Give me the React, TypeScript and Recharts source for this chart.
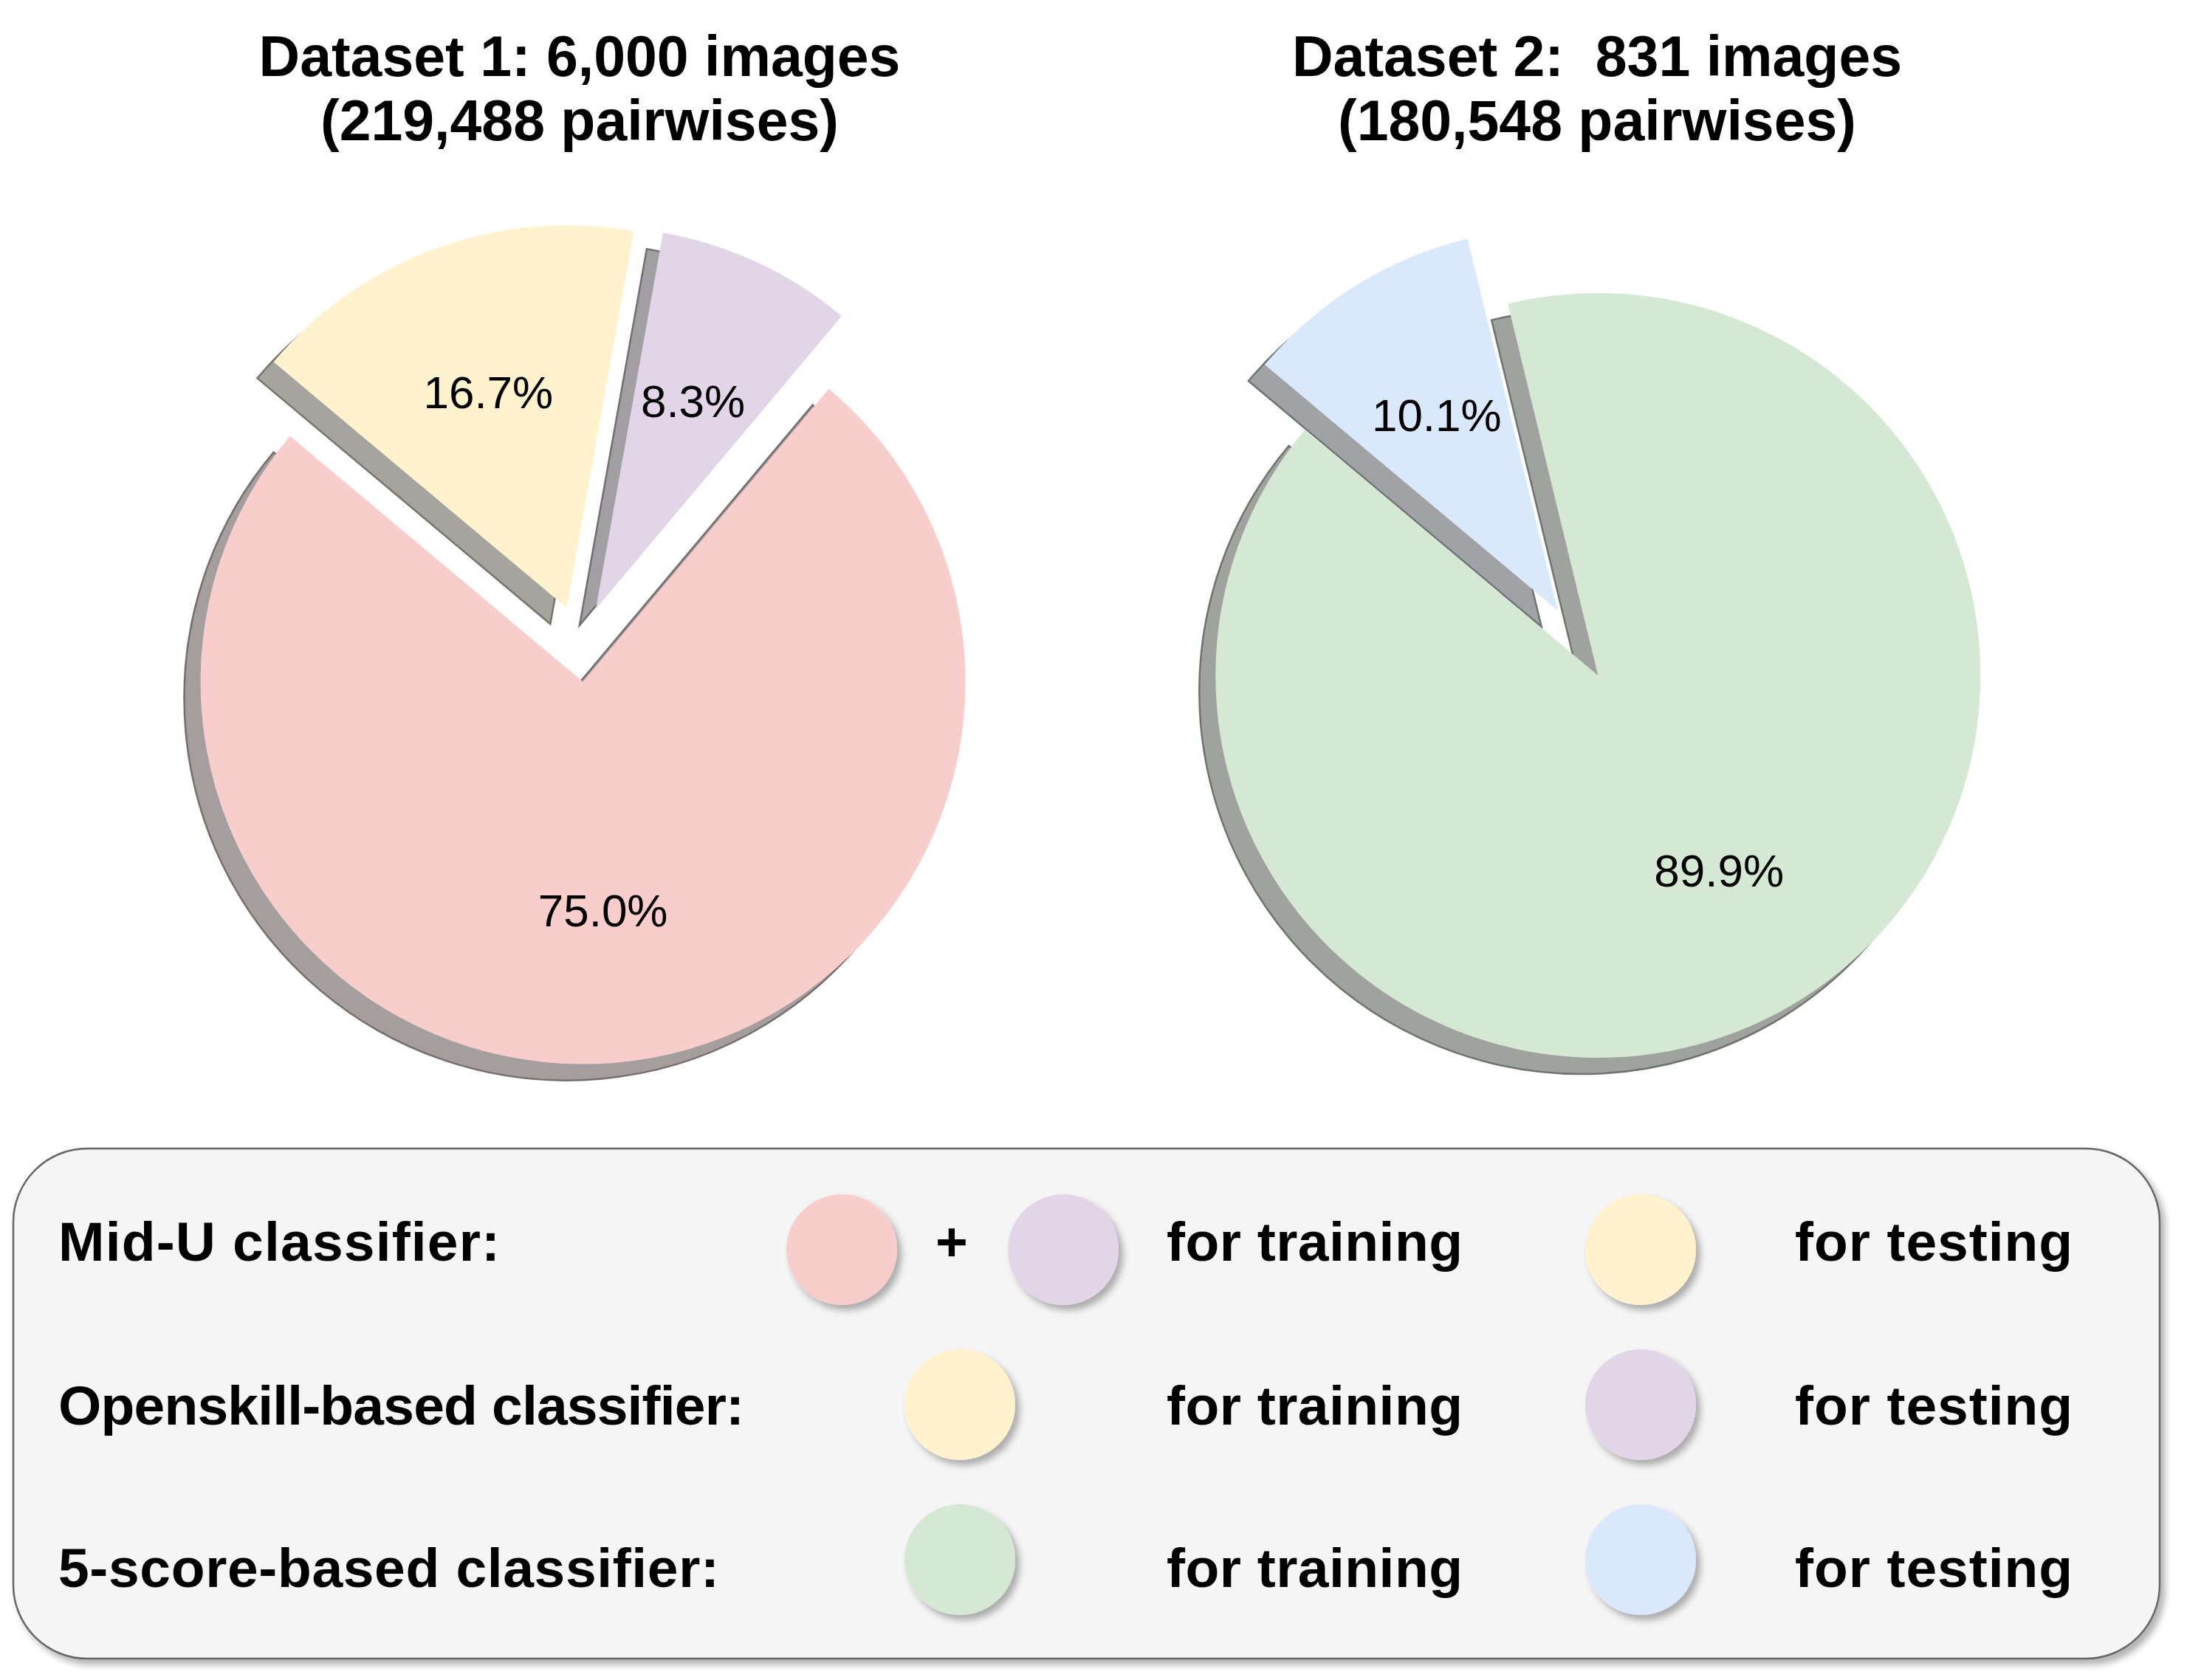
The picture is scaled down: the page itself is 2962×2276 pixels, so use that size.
import React from 'react';
import { PieChart, Pie, Cell, Sector } from 'recharts';

// ---------- data ----------
const dataset1Splits = ['Mid-U train only', 'Mid-U train / Openskill test', 'Mid-U test / Openskill train'];
const dataset1Values = [75.0, 8.3, 16.7];
const dataset1Colors = ['#f8cecc', '#e1d5e7', '#fff2cc'];

const dataset2Splits = ['5-score train', '5-score test'];
const dataset2Values = [89.9, 10.1];
const dataset2Colors = ['#d5e8d4', '#dae8fc'];

const title1Lines = ['Dataset 1: 6,000 images', '(219,488 pairwises)'];
const title2Lines = ['Dataset 2:  831 images', '(180,548 pairwises)'];

const legendClassifiers = ['Mid-U classifier:', 'Openskill-based classifier:', '5-score-based classifier:'];
const legendTrainColors = [['#f8cecc', '#e1d5e7'], ['#fff2cc'], ['#d5e8d4']];
const legendTestColors = ['#fff2cc', '#e1d5e7', '#dae8fc'];
const trainText = 'for training';
const testText = 'for testing';

// ---------- layout / style ----------
const W = 2962;
const H = 2276;
const R = 518;
const EXPLODE = 0.1;
const SHADOW = 22;
const START = 140;
const PIE1 = { cx: 785, cy: 872 };
const PIE2 = { cx: 2137, cy: 871 };
const FONT = "'Liberation Sans', Arial, sans-serif";
const RAD = Math.PI / 180;
const LABEL_WIDTHS = [598, 929, 895];

const shadowOf = (hex: string) => {
  const n = parseInt(hex.slice(1), 16);
  const c = [(n >> 16) & 255, (n >> 8) & 255, n & 255].map((v) => Math.round(0.15 * v + 127.5));
  return `rgb(${c[0]},${c[1]},${c[2]})`;
};
const edgeOf = (hex: string) => {
  const n = parseInt(hex.slice(1), 16);
  const c = [(n >> 16) & 255, (n >> 8) & 255, n & 255].map((v) => Math.round(0.22 * v + 64));
  return `rgb(${c[0]},${c[1]},${c[2]})`;
};

const data1 = dataset1Splits.map((name, i) => ({ name, value: dataset1Values[i] }));
const data2 = dataset2Splits.map((name, i) => ({ name, value: dataset2Values[i] }));

const ExplodedSector = (props: any) => {
  const { cx, cy, outerRadius, startAngle, endAngle } = props;
  const mid = props.midAngle ?? (startAngle + endAngle) / 2;
  const d = EXPLODE * outerRadius;
  const dx = d * Math.cos(-mid * RAD);
  const dy = d * Math.sin(-mid * RAD);
  return <Sector {...props} cx={cx + dx} cy={cy + dy} />;
};

const renderPct = (p: any) => {
  const r = (EXPLODE + 0.6) * p.outerRadius;
  const x = p.cx + r * Math.cos(-p.midAngle * RAD);
  const y = p.cy + r * Math.sin(-p.midAngle * RAD);
  return (
    <text
      x={x}
      y={y}
      textAnchor="middle"
      dominantBaseline="central"
      fontFamily={FONT}
      fontSize={62}
      fill="#000"
    >
      {`${(p.percent * 100).toFixed(1)}%`}
    </text>
  );
};

export default function App() {
  const pies = [
    { data: data1, colors: dataset1Colors, pos: PIE1 },
    { data: data2, colors: dataset2Colors, pos: PIE2 },
  ];
  const rowCircleY = [1693, 1903, 2113];
  const rowBaseY = [1708, 1930, 2150];
  const trainX = [[1140, 1440], [1300], [1300]];
  const testX = 2222;

  return (
    <div style={{ position: 'absolute', left: 0, top: 0, width: W, height: H, background: '#fff' }}>
      <div style={{ position: 'absolute', left: 0, top: 0 }}>
        <PieChart width={W} height={H} margin={{ top: 0, right: 0, bottom: 0, left: 0 }}>
          {pies.map((p, k) => (
            <Pie
              key={`shadow-${k}`}
              data={p.data}
              dataKey="value"
              nameKey="name"
              cx={p.pos.cx - SHADOW}
              cy={p.pos.cy + SHADOW}
              outerRadius={R}
              startAngle={START}
              endAngle={START + 360}
              isAnimationActive={false}
              shape={ExplodedSector}
              activeShape={ExplodedSector}
              inactiveShape={ExplodedSector}
              strokeWidth={2.5}
            >
              {p.data.map((_: any, i: number) => (
                <Cell key={i} fill={shadowOf(p.colors[i])} stroke={edgeOf(p.colors[i])} />
              ))}
            </Pie>
          ))}
          {pies.map((p, k) => (
            <Pie
              key={`pie-${k}`}
              data={p.data}
              dataKey="value"
              nameKey="name"
              cx={p.pos.cx}
              cy={p.pos.cy}
              outerRadius={R}
              startAngle={START}
              endAngle={START + 360}
              isAnimationActive={false}
              shape={ExplodedSector}
              activeShape={ExplodedSector}
              inactiveShape={ExplodedSector}
              stroke="none"
              label={renderPct}
              labelLine={false}
            >
              {p.data.map((_: any, i: number) => (
                <Cell key={i} fill={p.colors[i]} stroke="none" />
              ))}
            </Pie>
          ))}
        </PieChart>
      </div>
      <svg
        width={W}
        height={H}
        style={{ position: 'absolute', left: 0, top: 0, pointerEvents: 'none' }}
      >
        <defs>
          <filter id="dshadow" x="-20%" y="-20%" width="150%" height="150%">
            <feDropShadow dx="6" dy="7" stdDeviation="5" floodColor="#000" floodOpacity="0.3" />
          </filter>
        </defs>
        {[{ lines: title1Lines, x: 785 }, { lines: title2Lines, x: 2163 }].map((t, k) =>
          t.lines.map((line, j) => (
            <text
              key={`t-${k}-${j}`}
              x={t.x}
              y={103 + j * 87}
              textAnchor="middle"
              fontFamily={FONT}
              fontWeight="bold"
              fontSize={77}
              fill="#000"
              style={{ whiteSpace: 'pre' }}
            >
              {line}
            </text>
          ))
        )}
        <rect
          x={18}
          y={1556}
          width={2907}
          height={691}
          rx={100}
          ry={100}
          fill="#f5f5f5"
          stroke="#666666"
          strokeWidth={2.5}
          filter="url(#dshadow)"
        />
        {legendClassifiers.map((label, r) => (
          <g key={`row-${r}`}>
            <text
              x={79}
              y={rowBaseY[r]}
              fontFamily={FONT}
              fontWeight="bold"
              fontSize={75}
              fill="#000"
              textLength={LABEL_WIDTHS[r]}
              lengthAdjust="spacing"
            >
              {label}
            </text>
            {legendTrainColors[r].map((c, i) => (
              <circle key={i} cx={trainX[r][i]} cy={rowCircleY[r]} r={75} fill={c} filter="url(#dshadow)" />
            ))}
            {legendTrainColors[r].length > 1 && (
              <text x={1289} y={rowBaseY[r]} textAnchor="middle" fontFamily={FONT} fontWeight="bold" fontSize={75} fill="#000">
                +
              </text>
            )}
            <text
              x={1580}
              y={rowBaseY[r]}
              fontFamily={FONT}
              fontWeight="bold"
              fontSize={75}
              fill="#000"
              textLength={401}
              lengthAdjust="spacing"
            >
              {trainText}
            </text>
            <circle cx={testX} cy={rowCircleY[r]} r={75} fill={legendTestColors[r]} filter="url(#dshadow)" />
            <text
              x={2431}
              y={rowBaseY[r]}
              fontFamily={FONT}
              fontWeight="bold"
              fontSize={75}
              fill="#000"
              textLength={376}
              lengthAdjust="spacing"
            >
              {testText}
            </text>
          </g>
        ))}
      </svg>
    </div>
  );
}
